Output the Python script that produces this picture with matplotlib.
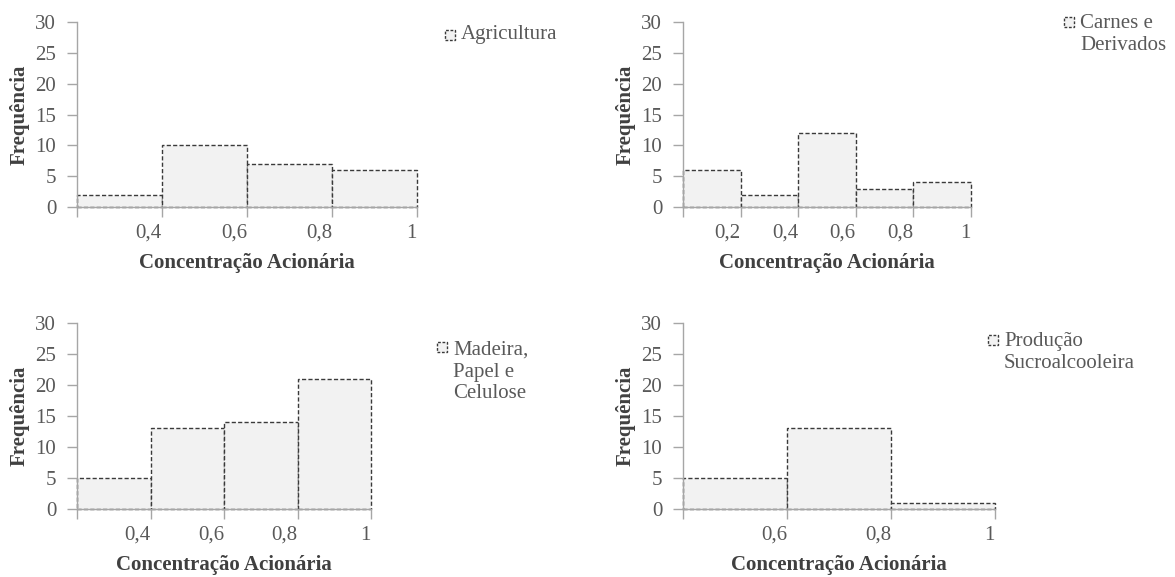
import matplotlib
matplotlib.use("Agg")
import matplotlib.pyplot as plt
from matplotlib.patches import Rectangle

plt.rcParams['font.family'] = ['Liberation Serif', 'DejaVu Serif']

# ---- data ----
agri_labels = ['0,4', '0,6', '0,8', '1']
agri_vals = [2, 10, 7, 6]
carnes_labels = ['0,2', '0,4', '0,6', '0,8', '1']
carnes_vals = [6, 2, 12, 3, 4]
madeira_labels = ['0,4', '0,6', '0,8', '1']
madeira_vals = [5, 13, 14, 21]
sucro_labels = ['0,6', '0,8', '1']
sucro_vals = [5, 13, 1]
yticks = [0, 5, 10, 15, 20, 25, 30]
series_names = ['Agricultura', 'Carnes e\nDerivados', 'Madeira,\nPapel e\nCelulose',
                'Produção\nSucroalcooleira']

W, H = 1175, 577
fig = plt.figure(figsize=(W / 100, H / 100), dpi=100)

FS = 15
TXT = '#595959'
LAB = '#404040'
AXC = '#a6a6a6'
FILL = '#f2f2f2'
EDGE = '#3a3a3a'


def px_axes(l, r, t, b):
    return fig.add_axes([l / W, 1 - b / H, (r - l) / W, (b - t) / H])


def px_fig(x, y):
    return x / W, 1 - y / H


panels = [
    (agri_labels, agri_vals, (77, 417, 22, 207), (461, 35), 20),
    (carnes_labels, carnes_vals, (683, 971, 22, 207), (1080, 22), 626),
    (madeira_labels, madeira_vals, (77, 371, 323, 509), (453, 347), 20),
    (sucro_labels, sucro_vals, (683, 995, 323, 509), (1004, 340), 626),
]

for (labels, vals, (l, r, t, b), (lx, ly), ylx), name in zip(panels, series_names):
    ax = px_axes(l, r, t, b)
    n = len(vals)
    ax.bar(range(n), vals, width=1.0, align='edge', color=FILL, edgecolor=EDGE,
           linewidth=1.0, linestyle=(0, (3, 1.6)), zorder=1, clip_on=False)
    ax.set_xlim(0, n)
    ax.set_ylim(0, 30)
    ax.set_yticks(yticks)
    ax.set_yticklabels([str(v) for v in yticks])
    ax.set_xticks(range(n + 1))
    ax.set_xticklabels([''] + labels)
    for lab in ax.get_xticklabels():
        lab.set_horizontalalignment('right')
    for s in ['top', 'right']:
        ax.spines[s].set_visible(False)
    for s in ['left', 'bottom']:
        ax.spines[s].set_color(AXC)
        ax.spines[s].set_linewidth(1.0)
        ax.spines[s].set_zorder(3)
    ax.tick_params(axis='x', direction='out', length=7, width=1, color=AXC,
                   labelsize=FS, labelcolor=TXT, pad=5)
    ax.tick_params(axis='y', direction='out', length=7, width=1, color=AXC,
                   labelsize=FS, labelcolor=TXT, pad=8)
    ax.set_xlabel('Concentração Acionária', fontsize=FS, fontweight='bold', color=LAB)
    ax.xaxis.set_label_coords(0.5, -56 / (b - t))
    ax.xaxis.label.set_verticalalignment('center')
    ax.set_ylabel('Frequência', fontsize=FS, fontweight='bold', color=LAB)
    ax.yaxis.set_label_coords((ylx - l) / (r - l), 0.5)
    ax.yaxis.label.set_verticalalignment('center')

    # legend (handle + label), anchored at first line centre
    hx, hy = px_fig(lx - 16, ly + 5)
    fig.patches.append(Rectangle((hx, hy), 10 / W, 10 / H, transform=fig.transFigure,
                                 facecolor=FILL, edgecolor=EDGE, linewidth=1.0,
                                 linestyle=(0, (2, 1.2))))
    nlines = name.count('\n') + 1
    tx, ty = px_fig(lx, ly + (nlines - 1) * 25 / 2)
    fig.text(tx, ty, name, fontsize=FS, color=TXT, ha='left', va='center',
             linespacing=1.2, multialignment='left')

fig.savefig('out.png', dpi=100)
